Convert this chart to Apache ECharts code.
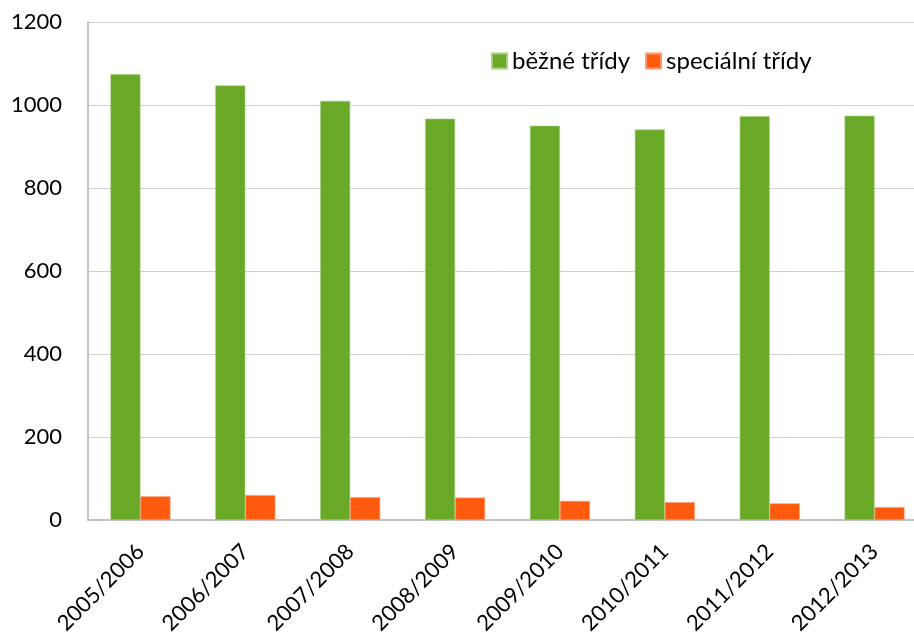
<!DOCTYPE html>
<html>
<head>
<meta charset="utf-8">
<script src="https://cdn.jsdelivr.net/npm/echarts@6/dist/echarts.min.js"></script>
<style>
  html, body { margin: 0; padding: 0; background: #fff; }
  #chart { width: 914px; height: 639px; }
</style>
</head>
<body>
<div id="chart"></div>
<script>
const years = ["2005/2006", "2006/2007", "2007/2008", "2008/2009", "2009/2010", "2010/2011", "2011/2012", "2012/2013"];
const regularClasses = [1074, 1047, 1010, 967, 950, 941, 973, 974];
const specialClasses = [57, 60, 55, 54, 46, 43, 40, 31];
const seriesNames = ["běžné třídy", "speciální třídy"];

const chart = echarts.init(document.getElementById("chart"));
const font = "Lato, 'Open Sans', sans-serif";

chart.setOption({
  animation: false,
  textStyle: { fontFamily: font },
  // the plot runs a little past the right edge of the picture
  grid: { left: 88, width: 839, top: 22, height: 498, containLabel: false, outerBoundsMode: "none" },
  legend: {
    left: 486,
    top: 44,
    itemWidth: 15,
    itemHeight: 15,
    itemGap: 15,
    icon: "rect",
    textStyle: { fontSize: 24, color: "#000", fontFamily: font },
    data: seriesNames,
  },
  xAxis: {
    type: "category",
    data: years,
    axisLine: { lineStyle: { color: "#c4c4c4", width: 2 } },
    axisTick: { show: false },
    axisLabel: { rotate: 45, fontSize: 22, color: "#000", margin: 28, fontFamily: font },
  },
  yAxis: {
    type: "value",
    min: 0,
    max: 1200,
    interval: 200,
    axisLine: { show: true, lineStyle: { color: "#c4c4c4", width: 2 } },
    axisTick: { show: false },
    axisLabel: { fontSize: 22, color: "#000", margin: 26, fontFamily: font, formatter: (v) => String(v) },
    splitLine: { lineStyle: { color: "#cfcfcf", width: 1 } },
  },
  series: [
    {
      name: seriesNames[0],
      type: "bar",
      data: regularClasses,
      barWidth: 30,
      barGap: "0%",
      itemStyle: { color: "#6aa827", borderColor: "#a6d07a", borderWidth: 0.6 },
    },
    {
      name: seriesNames[1],
      type: "bar",
      data: specialClasses,
      barWidth: 30,
      itemStyle: { color: "#ff5a0d", borderColor: "#ff9a70", borderWidth: 0.6 },
    },
  ],
});
</script>
</body>
</html>
